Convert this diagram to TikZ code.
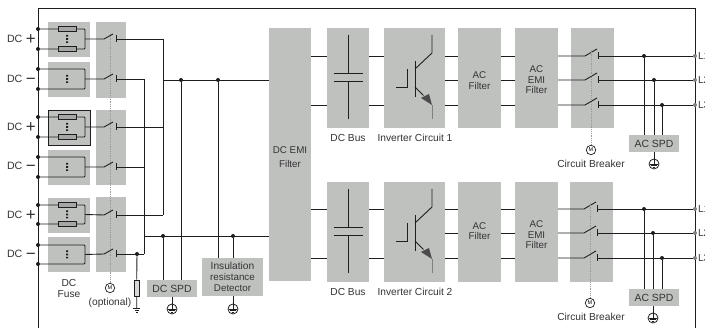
\documentclass[tikz,border=0pt]{standalone}
\usepackage{fontspec}
\setmainfont{Liberation Sans}
\definecolor{boxgray}{HTML}{BFC1BF}
\definecolor{wirec}{HTML}{1E1E1E}
\definecolor{txtc}{HTML}{333333}
\tikzset{
  graybox/.style={fill=boxgray,inner sep=0pt,outer sep=0pt,align=center,text=txtc,font=\fontsize{9.8}{10.8}\selectfont},
  boxtxt/.style={inner sep=0pt,outer sep=0pt,align=center,text=txtc,font=\fontsize{9.8}{10.4}\selectfont},
  lbl/.style={inner sep=0pt,outer sep=0pt,align=center,text=txtc,font=\fontsize{10.2}{11}\selectfont},
  wire/.style={draw=wirec,line width=0.9pt},
  dotj/.style={circle,fill=wirec,inner sep=0pt,minimum size=4pt},
  greydot/.style={circle,fill=gray,inner sep=0pt,minimum size=4pt},
  linkage/.style={draw=gray!80,line width=0.8pt,densely dotted},
  motor/.style={circle,draw=wirec,line width=0.7pt,fill=white,inner sep=0pt,minimum size=9.5pt,font=\fontsize{5.5}{6}\selectfont},
  gndc/.style={circle,draw=wirec,line width=0.8pt,fill=white,inner sep=0pt,minimum size=10pt},
  fusebar/.style={draw=wirec,fill=gray!70,line width=0.8pt,inner sep=0pt,minimum width=18pt,minimum height=5pt},
  arrester/.style={draw=wirec,fill=gray!30,line width=0.8pt,inner sep=0pt,minimum width=5pt,minimum height=16pt}
}
\newcommand{\gbox}[6]{%
  \pgfmathsetmacro{\gcx}{(#2+#4)/2}\pgfmathsetmacro{\gcy}{(#3+#5)/2}%
  \pgfmathsetmacro{\gw}{#4-#2}\pgfmathsetmacro{\gh}{#5-#3}%
  \node[graybox,minimum width=\gw pt,minimum height=\gh pt] (#1) at (\gcx,\gcy) {#6};}
\newcommand{\fusegroup}[6]{% name, boxtop, boxbottom, y1, y2, fuse bars
  \gbox{#1}{48}{#2}{90}{#3}{}
  \pgfmathsetmacro{\ym}{(#4+#5)/2}
  \node[dotj] (#1a) at (38,#4) {};
  \node[dotj] (#1b) at (38,#5) {};
  \coordinate (#1c) at (85,#4);
  \coordinate (#1d) at (85,#5);
  \coordinate (#1o) at (85,\ym);
  \draw[wire,rounded corners=1pt] (#1a) -- (#1c) -- (#1d) -- (#1b);
  \fill[wirec] (66,\ym-4) rectangle (68,\ym-2.4) (66,\ym-0.8) rectangle (68,\ym+0.8) (66,\ym+2.4) rectangle (68,\ym+4);
  #6}
\newcommand{\fusepair}[3]{%
  \node[fusebar] (#1p) at (67,#2) {};
  \node[fusebar] (#1q) at (67,#3) {};}
\newcommand{\dcswitch}[4]{% name, from, y, bus x
  \coordinate (#1l) at (104,#3);
  \coordinate (#1t) at (113,#3-5);
  \coordinate (#1r) at (116,#3);
  \coordinate (#1u) at (116,#3-3.5);
  \coordinate (#1v) at (116,#3+3.5);
  \coordinate (#1e) at (#4,#3);
  \draw[wire] (#2) -- (#1l) -- (#1t);
  \draw[wire] (#1u) -- (#1v);
  \draw[wire] (#1r) -- (#1e);}
\newcommand{\acswitch}[5]{% name, label, y, x offset, source box
  \coordinate (#1l) at (585+#4,#3);
  \coordinate (#1t) at (597+#4,#3-7);
  \coordinate (#1r) at (598+#4,#3);
  \coordinate (#1u) at (598+#4,#3-3.5);
  \coordinate (#1v) at (598+#4,#3+3.5);
  \node[greydot] (#1e) at (695,#3) {};
  \node[lbl,anchor=west] (#1n) at (698,#3) {#2};
  \draw[wire] (#5.east |- #1l) -- (#1l) -- (#1t);
  \draw[wire] (#1u) -- (#1v);
  \draw[wire] (#1r) -- (#1e);}
\newcommand{\gnd}[4]{% name, x, y, source box
  \node[gndc] (#1) at (#2,#3) {};
  \draw[wire] (#4.south -| #1) -- (#1.north);
  \draw[wirec,line width=0.6pt] (#2-4,#3) -- (#2+4,#3) (#2-2.8,#3+1.8) -- (#2+2.8,#3+1.8) (#2-1.4,#3+3.4) -- (#2+1.4,#3+3.4) (#1.north) -- (#2,#3);}
\newcommand{\dclabel}[3]{\node[lbl,anchor=base west] (#1) at (7,#2+3.6) {\fontsize{10.6}{11}\selectfont DC\hspace{0.5pt} {\fontsize{17}{17}\selectfont\raisebox{-2pt}{#3}}};}
\newcommand{\capsym}[1]{%
  \begin{scope}[shift={(#1.center)}]
  \draw[wire] (0,-43) -- (0,-5) (-14.5,-5) -- (14.5,-5) (-14.5,3) -- (14.5,3) (0,3) -- (0,41);
  \end{scope}}
\newcommand{\igbt}[1]{%
  \begin{scope}[shift={(#1.center)}]
  \draw[wire] (0.5,-17) -- (0.5,19);
  \draw[wire] (-18.5,9) -- (-7.5,9) -- (-7.5,-9);
  \draw[wire] (0.5,-9) -- (17.5,-25) -- (17.5,-43);
  \draw[wire] (0.5,9) -- (9,17.5);
  \fill[wirec!80!white] (6.5,20) -- (14.5,16) -- (17.5,27) -- cycle;
  \draw[draw=gray,line width=0.9pt] (17.5,27) -- (17.5,41);
  \end{scope}}
\newcommand{\hlink}[3]{\draw[wire] (#1.east |- 0,#3) -- (#2.west |- 0,#3);}
\begin{document}
\begin{tikzpicture}[x=1pt,y=-1pt]
\path[use as bounding box] (0,0) rectangle (705,328);
\clip (0,0) rectangle (705,328);
% frame
\coordinate (fbl) at (38,328);
\coordinate (ftl) at (38,8);
\coordinate (ftr) at (695,8);
\coordinate (fbr) at (695,328);
\draw[wire] (fbl) -- (ftl) -- (ftr) -- (fbr);
% switch boxes
\gbox{sa}{96}{22}{126}{98}{}
\gbox{sb}{96}{110}{126}{185}{}
\gbox{sc}{96}{197}{126}{272}{}
% fuses
\fusegroup{fa}{22}{57}{29}{49}{\fusepair{fa}{29}{49}}
\fusegroup{fb}{62}{97}{69}{89}{}
\fusegroup{fc}{110}{145}{117}{137}{\fusepair{fc}{117}{137}}
\fusegroup{fd}{150}{185}{157}{177}{}
\fusegroup{fe}{198}{233}{205}{224}{\fusepair{fe}{205}{224}}
\fusegroup{ff}{237}{272}{245}{264}{}
\draw[wirec,line width=0.8pt] (fc.north west) rectangle (fc.south east);
% DC labels
\dclabel{la}{39}{+}
\dclabel{lb}{79}{−}
\dclabel{lc}{127}{+}
\dclabel{ld}{166}{−}
\dclabel{le}{215}{+}
\dclabel{lf}{254}{−}
\node[lbl] (dcfuse) at (69,288) {DC\\Fuse};
\node[lbl] (opt) at (110,302.5) {(optional)};
% linkage and motor
\node[motor] (mdc) at (110,288) {M};
\coordinate (mtop) at (110,34);
\draw[linkage] (mtop) -- (mdc);
% switches
\dcswitch{wa}{fao}{39}{163}
\dcswitch{wb}{fbo}{79}{144}
\dcswitch{wc}{fco}{127}{163}
\dcswitch{wd}{fdo}{167}{144}
\dcswitch{we}{feo}{215}{163}
\dcswitch{wf}{ffo}{254}{144}
% main boxes
\gbox{dcemi}{269}{28}{311}{281}{}
\gbox{busa}{327}{28}{369}{128}{}
\gbox{inva}{384}{28}{445}{128}{}
\gbox{acfa}{458}{28}{501}{128}{}
\gbox{emia}{515}{28}{558}{128}{}
\gbox{brka}{571}{28}{614}{128}{}
\gbox{busb}{327}{182}{369}{282}{}
\gbox{invb}{384}{182}{445}{282}{}
\gbox{acfb}{458}{182}{501}{282}{}
\gbox{emib}{515}{182}{558}{282}{}
\gbox{brkb}{570}{182}{613}{282}{}
\gbox{dcspd}{147}{280}{197}{297}{\fontsize{10.4}{11}\selectfont DC SPD}
\gbox{ins}{202}{258}{263}{296}{\fontsize{10.2}{10.2}\selectfont Insulation\\resistance\\Detector}
\gbox{spda}{629}{135}{679}{152}{\fontsize{10.4}{11}\selectfont AC SPD}
\gbox{spdb}{629}{289}{679}{306}{\fontsize{10.4}{11}\selectfont AC SPD}
% texts in the main boxes
\node[boxtxt] (tdcemi) at (290,157) {DC EMI\\[3pt]Filter};
\node[boxtxt] (tacfa) at (479.5,80.5) {AC\\Filter};
\node[boxtxt] (temia) at (536.5,80) {AC\\EMI\\Filter};
\node[boxtxt] (tacfb) at (479.5,231) {AC\\Filter};
\node[boxtxt] (temib) at (536.5,235) {AC\\EMI\\Filter};
% captions
\node[lbl] (cba) at (348,138) {DC Bus};
\node[lbl] (cia) at (415,138) {Inverter Circuit 1};
\node[lbl] (cbb) at (348,292) {DC Bus};
\node[lbl] (cib) at (415,292) {Inverter Circuit 2};
\node[lbl] (cca) at (591,164) {Circuit Breaker};
\node[lbl] (ccb) at (591,317) {Circuit Breaker};
% DC side buses
\draw[wire] (wae) -- (wee);
\draw[wire] (wbe) -- (wfe);
\coordinate (bush) at (163,80);
\draw[wire] (bush) -- (dcemi.west |- bush);
\node[dotj] (ja) at (181,80) {};
\node[dotj] (jb) at (218,80) {};
\coordinate (busl) at (144,236);
\draw[wire] (busl) -- (dcemi.west |- busl);
\node[dotj] (jc) at (163,236) {};
\node[dotj] (jd) at (233,236) {};
\draw[wire] (ja) -- (ja |- dcspd.north);
\draw[wire] (jb) -- (jb |- ins.north);
\draw[wire] (jc) -- (jc |- dcspd.north);
\draw[wire] (jd) -- (jd |- ins.north);
\gnd{ga}{172}{309}{dcspd}
\gnd{gb}{233}{309}{ins}
% arrester
\node[dotj] (je) at (137,254) {};
\node[arrester] (arr) at (136.7,288) {};
\coordinate (arrg) at (136.7,308);
\draw[wire] (je) -- (arr.north) (arr.south) -- (arrg);
\draw[wirec,line width=0.7pt] (133.2,308) -- (140.2,308) (134.5,310) -- (139,310) (135.7,312) -- (137.8,312);
% upper chain
\hlink{dcemi}{busa}{56}\hlink{dcemi}{busa}{105}
\hlink{busa}{inva}{56}\hlink{busa}{inva}{105}
\foreach \yy in {56,80,105}{\hlink{inva}{acfa}{\yy}\hlink{acfa}{emia}{\yy}}
% lower chain
\hlink{dcemi}{busb}{209}\hlink{dcemi}{busb}{258}
\hlink{busb}{invb}{209}\hlink{busb}{invb}{258}
\foreach \yy in {209,233,258}{\hlink{invb}{acfb}{\yy}\hlink{acfb}{emib}{\yy}}
% symbols
\capsym{busa}\capsym{busb}
\igbt{inva}\igbt{invb}
% AC breakers
\acswitch{ka}{L1}{56}{0}{emia}
\acswitch{kb}{L2}{80}{0}{emia}
\acswitch{kc}{L3}{105}{0}{emia}
\acswitch{kd}{L1}{209}{-1}{emib}
\acswitch{ke}{L2}{233}{-1}{emib}
\acswitch{kf}{L3}{258}{-1}{emib}
\node[motor] (mua) at (591,150) {M};
\node[motor] (mub) at (590,303) {M};
\coordinate (mat) at (591,50);
\coordinate (mbt) at (590,203);
\draw[linkage] (mat) -- (mua);
\draw[linkage] (mbt) -- (mub);
% AC SPD taps
\node[dotj] (ta) at (644,56) {};
\node[dotj] (tb) at (654,80) {};
\node[dotj] (tc) at (662,105) {};
\node[dotj] (td) at (644,209) {};
\node[dotj] (te) at (653,233) {};
\node[dotj] (tf) at (662,258) {};
\draw[wire] (ta) -- (ta |- spda.north) (tb) -- (tb |- spda.north) (tc) -- (tc |- spda.north);
\draw[wire] (td) -- (td |- spdb.north) (te) -- (te |- spdb.north) (tf) -- (tf |- spdb.north);
\gnd{gc}{654}{164}{spda}
\gnd{gd}{653}{318}{spdb}
\end{tikzpicture}
\end{document}
